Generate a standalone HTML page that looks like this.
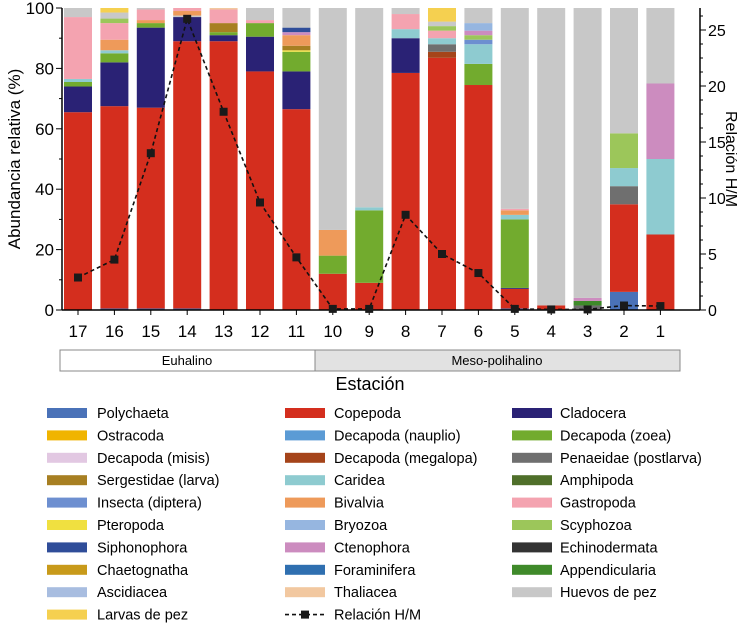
<!DOCTYPE html>
<html><head><meta charset="utf-8"><style>
body{margin:0;background:#fff;font-family:"Liberation Sans",sans-serif;}
svg text{font-family:"Liberation Sans",sans-serif;}
</style></head><body>
<svg id="c" width="737" height="625" xmlns="http://www.w3.org/2000/svg"></svg>
<script>
const stations=["17","16","15","14","13","12","11","10","9","8","7","6","5","4","3","2","1"];
const taxa=["Polychaeta","Copepoda","Cladocera","Ostracoda","Decapoda (nauplio)","Decapoda (zoea)","Decapoda (misis)","Decapoda (megalopa)","Penaeidae (postlarva)","Sergestidae (larva)","Caridea","Amphipoda","Insecta (diptera)","Bivalvia","Gastropoda","Pteropoda","Bryozoa","Scyphozoa","Siphonophora","Ctenophora","Echinodermata","Chaetognatha","Foraminifera","Appendicularia","Ascidiacea","Thaliacea","Huevos de pez","Larvas de pez"];
const colors=["#4a72b8","#d42e1e","#2a2275","#f0b400","#5b9bd5","#72ab2e","#e2c8e2","#a5441a","#6f6f6f","#a77f22","#8ecbd0","#4f6f2a","#6d8fd0","#ee9a5a","#f4a3b0","#f0e040","#96b6e0","#9cc65a","#2f4d99","#cc8cbf","#333333","#c89a1a","#2f6fb0","#3f8a2a","#a8bde0","#f2c8a0","#c8c8c8","#f5d050"];
// stacked segments per station (bottom to top): [taxon, percent]
const stacks=[
[["Copepoda",65.5],["Cladocera",8.5],["Decapoda (zoea)",1.5],["Caridea",1],["Gastropoda",20.5],["Huevos de pez",3]],
[["Polychaeta",0.5],["Copepoda",67],["Cladocera",14.5],["Decapoda (zoea)",3],["Caridea",1],["Bivalvia",3.5],["Gastropoda",5.5],["Scyphozoa",1.5],["Huevos de pez",2],["Larvas de pez",1.5]],
[["Polychaeta",0.5],["Copepoda",66.5],["Cladocera",26.5],["Decapoda (zoea)",1.5],["Bivalvia",1],["Gastropoda",3.5],["Huevos de pez",0.5]],
[["Polychaeta",0.5],["Copepoda",88.5],["Cladocera",8],["Huevos de pez",0.5],["Bivalvia",1.5],["Gastropoda",1]],
[["Copepoda",89],["Cladocera",2],["Decapoda (zoea)",1],["Sergestidae (larva)",3],["Gastropoda",4.5],["Thaliacea",0.5]],
[["Copepoda",79],["Cladocera",11.5],["Decapoda (zoea)",4.5],["Gastropoda",1],["Huevos de pez",4]],
[["Copepoda",66.5],["Cladocera",12.5],["Decapoda (zoea)",6.5],["Pteropoda",0.5],["Sergestidae (larva)",1.5],["Bivalvia",3.5],["Ctenophora",1],["Siphonophora",1.5],["Huevos de pez",6.5]],
[["Copepoda",12],["Decapoda (zoea)",6],["Bivalvia",8.5],["Huevos de pez",73.5]],
[["Copepoda",9],["Decapoda (zoea)",24],["Caridea",1],["Huevos de pez",66]],
[["Copepoda",78.5],["Cladocera",11.5],["Caridea",3],["Gastropoda",5],["Huevos de pez",2]],
[["Copepoda",83.5],["Decapoda (megalopa)",2],["Penaeidae (postlarva)",2.5],["Caridea",2],["Gastropoda",2.5],["Scyphozoa",1.5],["Huevos de pez",1.5],["Larvas de pez",4.5]],
[["Copepoda",74.5],["Decapoda (zoea)",7],["Caridea",6.5],["Insecta (diptera)",1.5],["Scyphozoa",1.5],["Ctenophora",1.5],["Bryozoa",2.5],["Huevos de pez",5]],
[["Polychaeta",0.5],["Copepoda",6.5],["Cladocera",0.3],["Decapoda (zoea)",22.7],["Caridea",1.5],["Bivalvia",1.5],["Gastropoda",0.5],["Huevos de pez",66.5]],
[["Copepoda",1.5],["Huevos de pez",98.5]],
[["Penaeidae (postlarva)",1.5],["Appendicularia",1.5],["Ctenophora",1],["Huevos de pez",96]],
[["Polychaeta",6],["Copepoda",29],["Penaeidae (postlarva)",6],["Caridea",6],["Scyphozoa",11.5],["Huevos de pez",41.5]],
[["Copepoda",25],["Caridea",25],["Ctenophora",25],["Huevos de pez",25]]
];
const ratioHM=[2.9,4.5,14,26,17.7,9.6,4.7,0.1,0.1,8.5,5,3.3,0.1,0.05,0.05,0.4,0.35];
const leftTicks=[0,20,40,60,80,100];
const rightTicks=[0,5,10,15,20,25];

const NS="http://www.w3.org/2000/svg",svg=document.getElementById('c');
function mk(t,a,p){const e=document.createElementNS(NS,t);for(const k in a)e.setAttribute(k,a[k]);(p||svg).appendChild(e);return e;}
const X0=62,X1=700,Y0=310,Y1=8,pitch=36.4,bw=28;
const xc=i=>78+i*pitch;
const yL=v=>Y0-(v/100)*(Y0-Y1);
const yR=v=>Y0-v*11.2;
stacks.forEach((st,i)=>{let acc=0;st.forEach(([t,v])=>{const r=mk('rect',{x:xc(i)-bw/2,y:yL(acc+v),width:bw,height:Math.max(0,yL(acc)-yL(acc+v)),fill:colors[taxa.indexOf(t)]});

acc+=v;});});
mk('line',{x1:X0,y1:Y1,x2:X0,y2:Y0,stroke:'#000','stroke-width':1.5,});
mk('line',{x1:X1,y1:Y1,x2:X1,y2:Y0,stroke:'#000','stroke-width':1.5,});
mk('line',{x1:X0,y1:Y0,x2:X1,y2:Y0,stroke:'#000','stroke-width':1.5,});
for(let v=0;v<=100;v+=10){mk('line',{x1:X0-(v%20?3:6),y1:yL(v),x2:X0,y2:yL(v),stroke:'#000'});}
leftTicks.forEach(v=>{const t=mk('text',{x:X0-8,y:yL(v)+6,'text-anchor':'end','font-size':17});t.textContent=v;
});
for(let v=0;v<=27;v+=1.25){mk('line',{x1:X1,y1:yR(v),x2:X1+(v%5?3:6),y2:yR(v),stroke:'#000'});}
rightTicks.forEach(v=>{const t=mk('text',{x:X1+8,y:yR(v)+6,'font-size':16});t.textContent=v;
});
stations.forEach((s,i)=>{mk('line',{x1:xc(i),y1:Y0,x2:xc(i),y2:Y0+5,stroke:'#000'});const t=mk('text',{x:xc(i),y:337,'text-anchor':'middle','font-size':17});t.textContent=s;
});
let d='';ratioHM.forEach((v,i)=>{d+=(i?'L':'M')+xc(i)+' '+yR(v);});
mk('path',{d:d,fill:'none',stroke:'#111','stroke-width':1.6,'stroke-dasharray':'4,3',});
ratioHM.forEach((v,i)=>{const r=mk('rect',{x:xc(i)-4,y:yR(v)-4,width:8,height:8,fill:'#1a1a1a'});
});
let t=mk('text',{x:0,y:0,'font-size':17,'text-anchor':'middle',transform:'translate(20,159) rotate(-90)',});t.textContent='Abundancia relativa (%)';
t=mk('text',{x:0,y:0,'font-size':16,'text-anchor':'middle',transform:'translate(726,159) rotate(90)',});t.textContent='Relación H/M';
mk('rect',{x:60,y:350,width:255,height:21,fill:'#fff',stroke:'#888',});
mk('rect',{x:315,y:350,width:365,height:21,fill:'#e2e2e2',stroke:'#888',});
t=mk('text',{x:187,y:365,'text-anchor':'middle','font-size':13,});t.textContent='Euhalino';
t=mk('text',{x:497,y:365,'text-anchor':'middle','font-size':13,});t.textContent='Meso-polihalino';
t=mk('text',{x:370,y:390,'text-anchor':'middle','font-size':18,});t.textContent='Estación';
const cols=[[47,97],[285,334],[512,560]];
const RS=22.4;
taxa.forEach((n,k)=>{const c=cols[k%3],row=Math.floor(k/3),y=413+row*RS;
const r=mk('rect',{x:c[0],y:y-5,width:40,height:10,fill:colors[k]});
const tx=mk('text',{x:c[1],y:y+5,'font-size':14.5});tx.textContent=n;});
{const y=413+9*RS;mk('line',{x1:285,y1:y,x2:325,y2:y,stroke:'#111','stroke-width':1.6,'stroke-dasharray':'4,3'});mk('rect',{x:301,y:y-4,width:8,height:8,fill:'#1a1a1a'});
const tx=mk('text',{x:334,y:y+5,'font-size':14.5,});tx.textContent='Relación H/M';}
</script>
</body></html>
